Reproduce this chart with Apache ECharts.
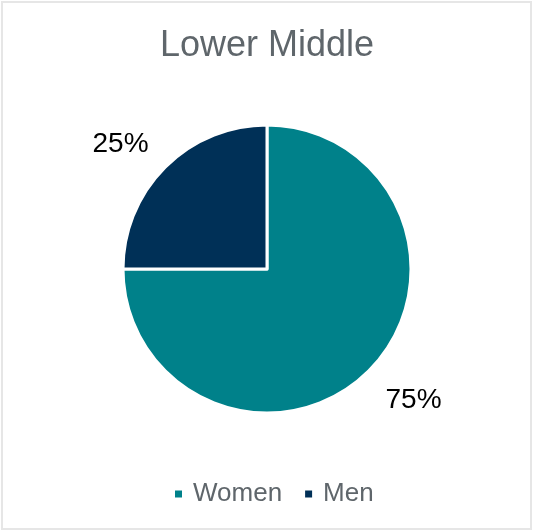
<!DOCTYPE html>
<html>
<head>
<meta charset="utf-8">
<script src="https://cdn.jsdelivr.net/npm/echarts@6/dist/echarts.min.js"></script>
<style>
  html, body { margin: 0; padding: 0; background: #fff; }
  #chart { width: 534px; height: 532px; }
</style>
</head>
<body>
<div id="chart"></div>
<script>
// Gender split for the lower-middle pay quartile
const categories = ['Women', 'Men'];
const shares = [75, 25];
const colors = ['#00818a', '#003057'];

// per-slice label placement (leader line length / gap to text)
const labelPlacement = {
  Women: { length: 42, gap: -13 },
  Men: { length: 32, gap: -6 }
};

const chart = echarts.init(document.getElementById('chart'), null, { renderer: 'canvas' });

chart.setOption({
  animation: false,
  backgroundColor: '#ffffff',
  color: colors,
  title: {
    text: 'Lower Middle',
    left: 'center',
    top: 23,
    textStyle: {
      fontFamily: 'Liberation Sans, Arial, sans-serif',
      fontSize: 36,
      fontWeight: 'normal',
      color: '#5f666b'
    }
  },
  legend: {
    data: categories,
    bottom: 20,
    left: 168,
    icon: 'rect',
    itemWidth: 9,
    itemHeight: 9,
    itemGap: 21,
    textStyle: {
      fontFamily: 'Liberation Sans, Arial, sans-serif',
      fontSize: 26,
      color: '#5f666b',
      padding: [0, 0, 0, 5]
    }
  },
  graphic: [{
    type: 'rect',
    silent: true,
    shape: { x: 2, y: 2, width: 529, height: 527 },
    style: { fill: 'none', stroke: '#e6e6e6', lineWidth: 2 }
  }],
  series: [{
    type: 'pie',
    center: [267, 269],
    radius: 144,
    startAngle: 90,
    clockwise: true,
    itemStyle: { borderColor: '#ffffff', borderWidth: 3 },
    label: {
      show: true,
      position: 'outside',
      formatter: p => p.value + '%',
      fontFamily: 'Liberation Sans, Arial, sans-serif',
      fontSize: 28,
      color: '#000000'
    },
    labelLine: { show: false, length: 36, length2: 0 },
    emphasis: { disabled: true },
    data: categories.map((name, i) => ({
      name,
      value: shares[i],
      label: { distanceToLabelLine: labelPlacement[name].gap },
      labelLine: { show: false, length: labelPlacement[name].length, length2: 0 }
    }))
  }]
});
</script>
</body>
</html>
